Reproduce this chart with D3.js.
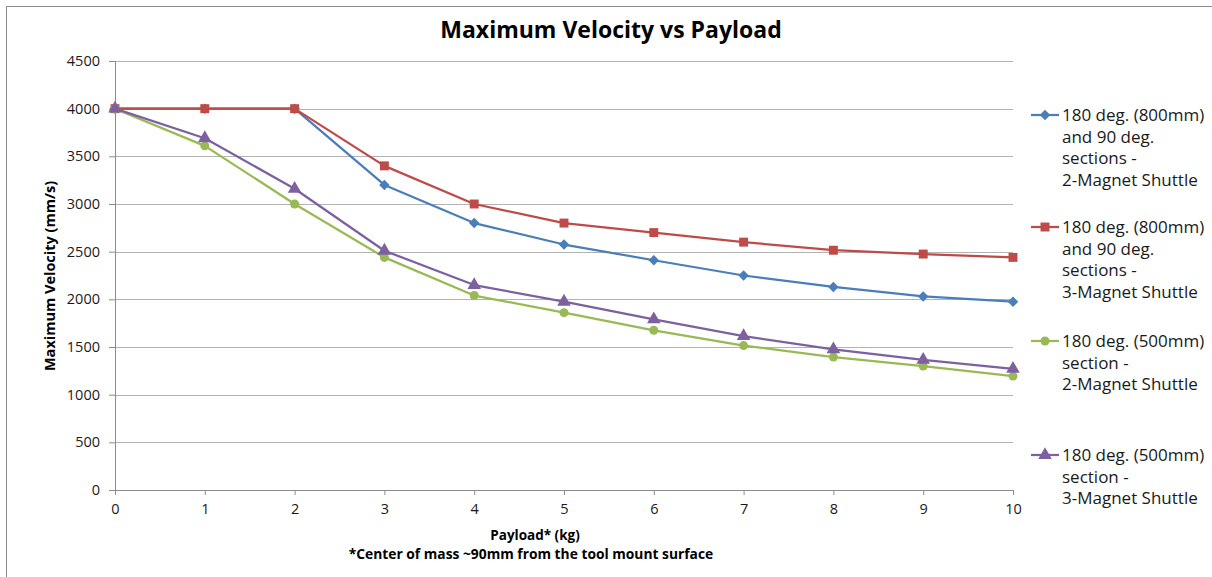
<!DOCTYPE html>
<html>
<head>
<meta charset="utf-8">
<script src="https://cdn.jsdelivr.net/npm/d3@7"></script>
<style>
  body { margin: 0; background: #fff; }
  svg { font-family: "Open Sans", "Noto Sans", sans-serif; }
</style>
</head>
<body>
<script>
// payload in kg
const payload = [0, 1, 2, 3, 4, 5, 6, 7, 8, 9, 10];

// max velocity (mm/s)
const blue800_2mag = [4000, 4000, 4000, 3200, 2800, 2575, 2410, 2250, 2130, 2030, 1975];
const red800_3mag = [4000, 4000, 4000, 3400, 3000, 2800, 2700, 2600, 2515, 2475, 2440];
const green500_2mag = [4000, 3610, 3000, 2440, 2040, 1860, 1675, 1515, 1395, 1300, 1195];
const purple500_3mag = [4000, 3690, 3160, 2510, 2150, 1975, 1790, 1615, 1475, 1365, 1270];

const yTicks = [0, 500, 1000, 1500, 2000, 2500, 3000, 3500, 4000, 4500];

const seriesNames = [
  ["180 deg. (800mm)", "and 90 deg.", "sections -", "2-Magnet Shuttle"],
  ["180 deg. (800mm)", "and 90 deg.", "sections -", "3-Magnet Shuttle"],
  ["180 deg. (500mm)", "section -", "2-Magnet Shuttle"],
  ["180 deg. (500mm)", "section  -", "3-Magnet Shuttle"]
];
const seriesColors = ["#4a7ebb", "#be4b48", "#98b954", "#7d60a0"];
// diamond is drawn as a square turned 45 degrees
const seriesMarkers = [d3.symbolSquare, d3.symbolSquare, d3.symbolCircle, d3.symbolTriangle];
const markerTurn = [45, 0, 0, 0];
const markerSizes = [55, 80, 64, 80];

const series = [blue800_2mag, red800_3mag, green500_2mag, purple500_3mag];

const W = 1212, H = 577;
const plot = {left: 115, right: 1013, top: 61, bottom: 490};

const svg = d3.select("body").append("svg")
  .attr("width", W)
  .attr("height", H);

// outer chart frame
svg.append("rect")
  .attr("x", 6.5).attr("y", 6.5)
  .attr("width", 1300).attr("height", 700)
  .attr("fill", "none")
  .attr("stroke", "#8c8c8c")
  .attr("stroke-width", 1);

const x = d3.scaleLinear().domain([0, 10]).range([plot.left, plot.right]);
const y = d3.scaleLinear().domain([0, 4500]).range([plot.bottom, plot.top]);

// gridlines
svg.append("g")
  .selectAll("line")
  .data(yTicks.filter(d => d > 0))
  .enter().append("line")
    .attr("x1", plot.left).attr("x2", plot.right)
    .attr("y1", d => Math.round(y(d)) + 0.5)
    .attr("y2", d => Math.round(y(d)) + 0.5)
    .attr("stroke", "#b3b3b3")
    .attr("stroke-width", 1);

// y axis
const yAxis = svg.append("g")
  .attr("transform", "translate(" + plot.left + ",0)")
  .call(d3.axisLeft(y).tickValues(yTicks).tickSize(6).tickPadding(9).tickFormat(d3.format("d")));
yAxis.select(".domain").attr("stroke", "#8c8c8c");
yAxis.selectAll(".tick line").attr("stroke", "#8c8c8c");
yAxis.selectAll("text")
  .attr("font-size", 14.5)
  .attr("fill", "#1a1a1a")
  .attr("font-family", "Open Sans");

// x axis
const xAxis = svg.append("g")
  .attr("transform", "translate(0," + plot.bottom + ")")
  .call(d3.axisBottom(x).tickValues(payload).tickSize(5).tickPadding(9).tickFormat(d3.format("d")));
xAxis.select(".domain").attr("stroke", "#8c8c8c");
xAxis.selectAll(".tick line").attr("stroke", "#8c8c8c");
xAxis.selectAll("text")
  .attr("font-size", 14.5)
  .attr("fill", "#1a1a1a")
  .attr("font-family", "Open Sans");

// lines + markers
const line = d3.line()
  .x((d, i) => x(payload[i]))
  .y(d => y(d));

series.forEach(function(vals, s) {
  const g = svg.append("g").attr("class", "series");
  g.append("path")
    .datum(vals)
    .attr("d", line)
    .attr("fill", "none")
    .attr("stroke", seriesColors[s])
    .attr("stroke-width", 2.25)
    .attr("stroke-linejoin", "round");
  g.selectAll("path.mark")
    .data(vals)
    .enter().append("path")
      .attr("class", "mark")
      .attr("transform", (d, i) => "translate(" + x(payload[i]) + "," + y(d) + ") rotate(" + markerTurn[s] + ")")
      .attr("d", d3.symbol().type(seriesMarkers[s]).size(markerSizes[s]))
      .attr("fill", seriesColors[s]);
});

// title
svg.append("text")
  .attr("x", 611).attr("y", 38)
  .attr("text-anchor", "middle")
  .attr("font-size", 23)
  .attr("font-weight", "bold")
  .attr("fill", "#000")
  .text("Maximum Velocity vs Payload");

// y title
svg.append("text")
  .attr("transform", "translate(55,276) rotate(-90)")
  .attr("text-anchor", "middle")
  .attr("font-size", 14.5)
  .attr("font-weight", "bold")
  .text("Maximum Velocity (mm/s)");

// x title and note
svg.append("text")
  .attr("x", 535).attr("y", 540)
  .attr("text-anchor", "middle")
  .attr("font-size", 13.5)
  .attr("font-weight", "bold")
  .text("Payload* (kg)");

svg.append("text")
  .attr("x", 531).attr("y", 559)
  .attr("text-anchor", "middle")
  .attr("font-size", 13.8)
  .attr("font-weight", "bold")
  .text("*Center of mass ~90mm from the tool mount surface");

// legend
const legendTops = [115, 227, 341, 455];
const lineGap = 21.5;
seriesNames.forEach(function(lines, s) {
  const lg = svg.append("g").attr("transform", "translate(1031," + legendTops[s] + ")");
  lg.append("line")
    .attr("x1", 0).attr("x2", 28)
    .attr("y1", 0).attr("y2", 0)
    .attr("stroke", seriesColors[s])
    .attr("stroke-width", 2.25);
  lg.append("path")
    .attr("transform", "translate(14,0) rotate(" + markerTurn[s] + ")")
    .attr("d", d3.symbol().type(seriesMarkers[s]).size(markerSizes[s]))
    .attr("fill", seriesColors[s]);
  const t = lg.append("text")
    .attr("x", 31)
    .attr("y", 6)
    .attr("font-size", 17)
    .attr("fill", "#1a1a1a");
  lines.forEach(function(str, i) {
    t.append("tspan").attr("x", 31).attr("dy", i === 0 ? 0 : lineGap).text(str);
  });
});
</script>
</body>
</html>
